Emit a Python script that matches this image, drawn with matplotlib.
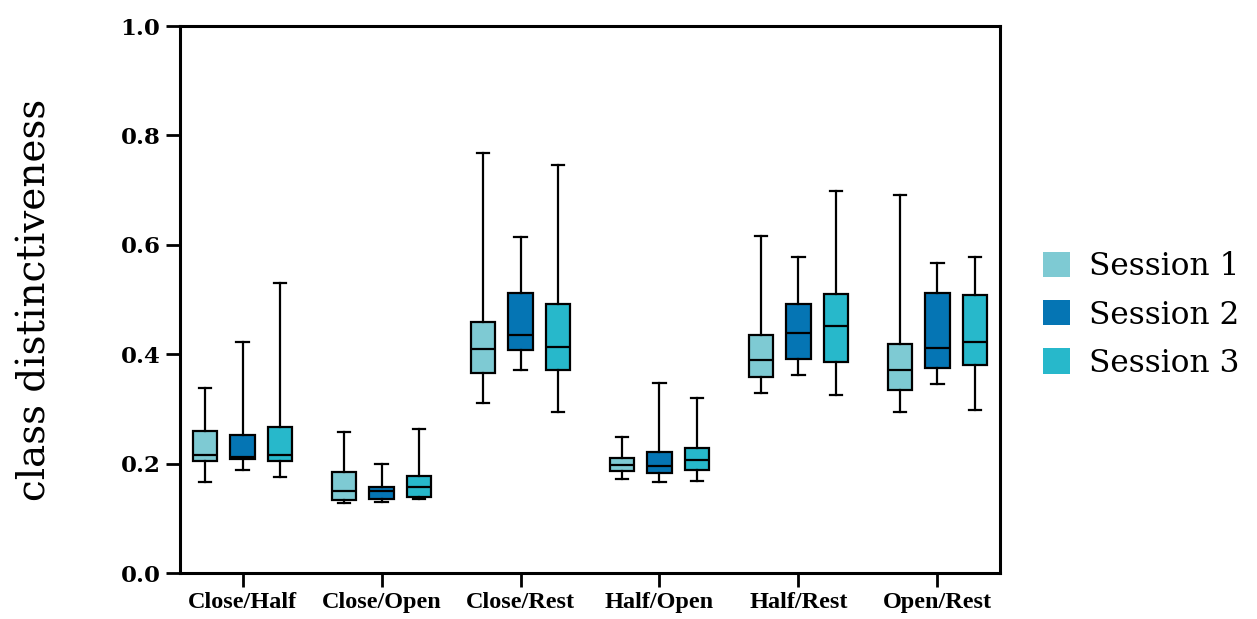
import matplotlib
matplotlib.use("Agg")
import matplotlib.pyplot as plt
from matplotlib.patches import Patch

categories = ["Close/Half", "Close/Open", "Close/Rest", "Half/Open", "Half/Rest", "Open/Rest"]
sessions = ["Session 1", "Session 2", "Session 3"]
colors = ["#7ECAD3", "#0575B4", "#27B8CB"]

# per session: [whislo, q1, med, q3, whishi] for each category
s1 = [[0.166, 0.205, 0.216, 0.260, 0.339],
      [0.128, 0.133, 0.149, 0.185, 0.257],
      [0.310, 0.366, 0.410, 0.458, 0.767],
      [0.172, 0.186, 0.197, 0.210, 0.248],
      [0.329, 0.359, 0.389, 0.435, 0.616],
      [0.294, 0.335, 0.371, 0.419, 0.691]]
s2 = [[0.189, 0.208, 0.212, 0.252, 0.422],
      [0.129, 0.136, 0.150, 0.157, 0.199],
      [0.372, 0.407, 0.436, 0.512, 0.614],
      [0.167, 0.182, 0.196, 0.222, 0.347],
      [0.362, 0.392, 0.439, 0.492, 0.578],
      [0.345, 0.374, 0.412, 0.512, 0.567]]
s3 = [[0.176, 0.204, 0.216, 0.266, 0.530],
      [0.135, 0.139, 0.158, 0.178, 0.263],
      [0.295, 0.371, 0.413, 0.491, 0.745],
      [0.169, 0.188, 0.206, 0.228, 0.320],
      [0.326, 0.386, 0.451, 0.510, 0.699],
      [0.298, 0.381, 0.422, 0.509, 0.578]]
data = [s1, s2, s3]

serif = ["DejaVu Serif"]
fig = plt.figure(figsize=(12.57, 6.19), dpi=100)
ax = fig.add_axes([180/1257, 46/619, 820/1257, 547/619])

offsets = [-0.27, 0.0, 0.27]
for k, (ser, col) in enumerate(zip(data, colors)):
    stats = [dict(whislo=v[0], q1=v[1], med=v[2], q3=v[3], whishi=v[4], fliers=[]) for v in ser]
    pos = [i + offsets[k] for i in range(len(categories))]
    ax.bxp(stats, positions=pos, widths=0.175, capwidths=0.09, patch_artist=True,
           showfliers=False, manage_ticks=False,
           boxprops=dict(facecolor=col, edgecolor="black", linewidth=1.6),
           medianprops=dict(color="black", linewidth=1.6),
           whiskerprops=dict(color="black", linewidth=1.6),
           capprops=dict(color="black", linewidth=1.6))

ax.set_xlim(-0.45, 5.45)
ax.set_ylim(0, 1.0)
ax.set_yticks([0, 0.2, 0.4, 0.6, 0.8, 1.0])
ax.set_yticklabels(["0.0", "0.2", "0.4", "0.6", "0.8", "1.0"], family=serif, fontsize=16.5, fontweight="bold")
ax.set_xticks(range(len(categories)))
ax.set_xticklabels(categories, family=["Liberation Serif"], fontsize=17.5, fontweight="bold")
for s in ax.spines.values():
    s.set_linewidth(2.2)
ax.tick_params(axis="both", length=10, width=2.0, pad=4)
ax.set_ylabel("class distinctiveness", family=serif, fontsize=28, labelpad=48)

handles = [Patch(facecolor=c, edgecolor="none", label=s) for c, s in zip(colors, sessions)]
fig.legend(handles=handles, loc="center left", bbox_to_anchor=(0.83, 0.491), frameon=False,
           borderpad=0, borderaxespad=0,
           prop=dict(family=serif, size=22.5), handlelength=0.87, handleheight=0.87,
           labelspacing=0.55, handletextpad=0.6)

fig.savefig("out.png", dpi=100)
